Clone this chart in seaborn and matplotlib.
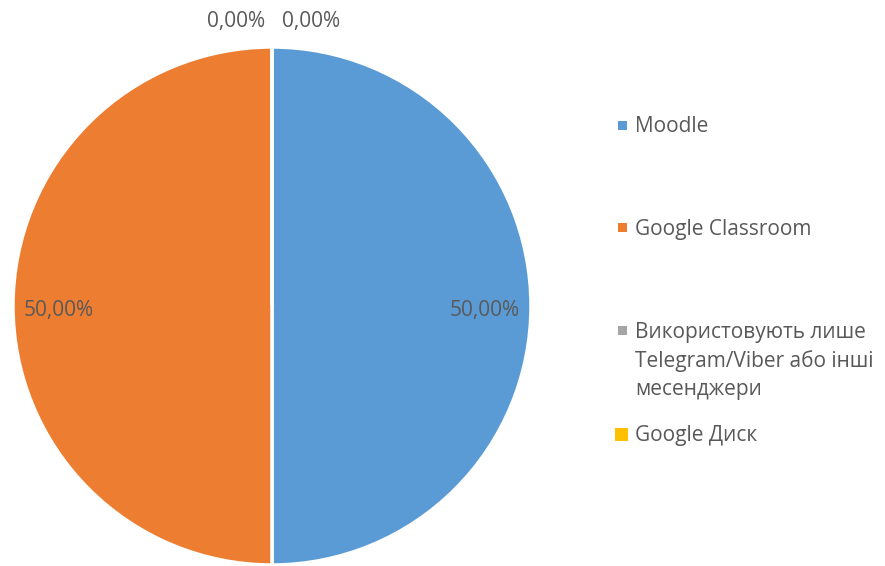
import matplotlib.pyplot as plt
import matplotlib.patches as mpatches
import seaborn as sns
import numpy as np

# data
categories = ['Moodle', 'Google Classroom',
              'Використовують лише\nTelegram/Viber або інші\nмесенджери', 'Google Диск']
shares = [50.0, 50.0, 0.0, 0.0]
colors = ['#5B9BD5', '#ED7D31', '#A5A5A5', '#FFC000']

sns.set_theme(style='white')
plt.rcParams['font.family'] = ['Open Sans', 'DejaVu Sans']
txt_color = '#595959'

fig = plt.figure(figsize=(8.85, 5.66), dpi=100)
ax = fig.add_axes([272/885 - 259/885, 1 - 565/566, 518/885, 518/566])

wedges, _ = ax.pie(shares, colors=colors, startangle=90, counterclock=False,
                   wedgeprops=dict(edgecolor='white', linewidth=2.5))
ax.set_xlim(-1, 1)
ax.set_ylim(-1, 1)
ax.set_aspect('equal')
ax.axis('off')

# percentage labels, comma as decimal separator
zero_side = ['right', 'left']
k = 0
for w, v in zip(wedges, shares):
    lab = f'{v:.2f}%'.replace('.', ',')
    theta = np.deg2rad((w.theta1 + w.theta2) / 2)
    if v > 0:
        ax.text(0.823 * np.cos(theta), 0.823 * np.sin(theta) - 0.017, lab,
                ha='center', va='center', fontsize=15, color=txt_color)
    else:
        ha = zero_side[k]
        dx = -0.027 if ha == 'right' else 0.039
        ax.text(dx, 1.097, lab, ha=ha, va='center', fontsize=15, color=txt_color,
                clip_on=False)
        k += 1

# legend drawn by hand to keep Excel's uneven spacing
leg_y = [127, 229, 361, 436]
mark_y = [125, 227, 330, 434]
box = [9, 9, 9, 13]
for lab, c, y, my, s in zip(categories, colors, leg_y, mark_y, box):
    x0 = 615 if s > 9 else 618
    fig.patches.append(mpatches.Rectangle((x0 / 885, 1 - (my + s / 2) / 566),
                                          s / 885, s / 566, transform=fig.transFigure,
                                          facecolor=c, edgecolor='none'))
    fig.text(635 / 885, 1 - y / 566, lab, ha='left', va='center',
             fontsize=15, color=txt_color, linespacing=1.45)

fig.savefig('out.png', dpi=100)
